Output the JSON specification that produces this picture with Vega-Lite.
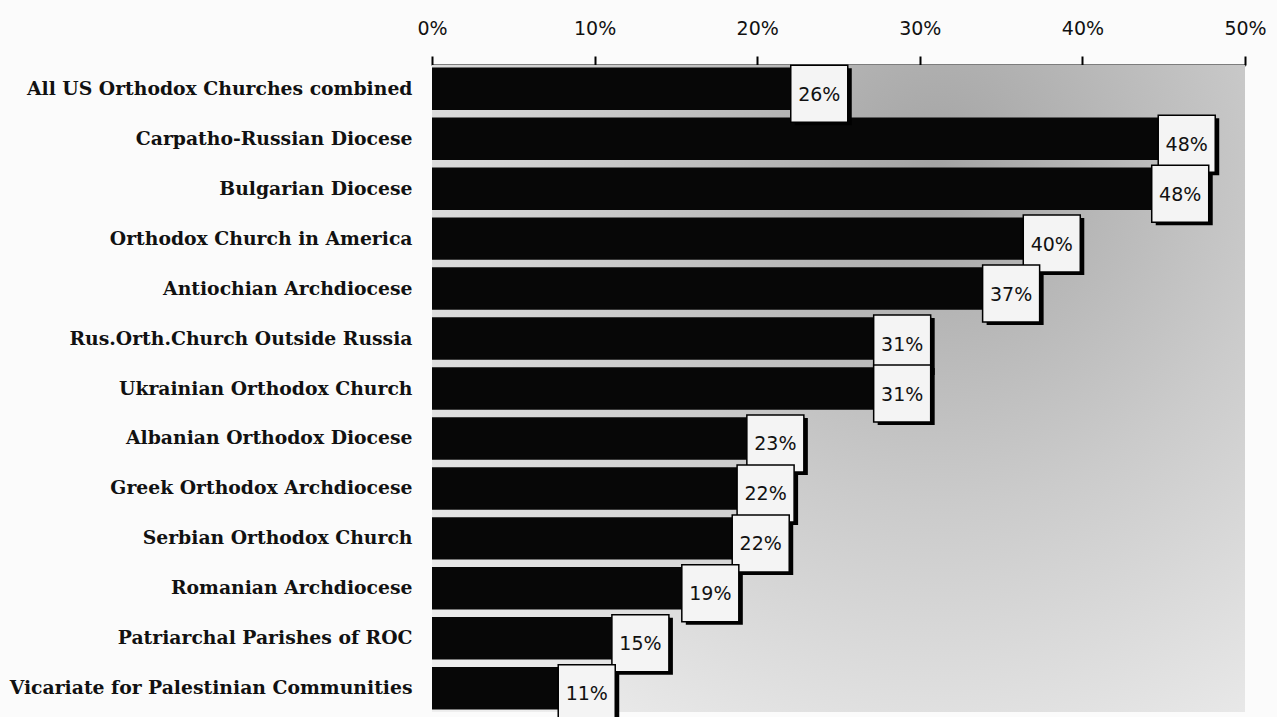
{
  "$schema": "https://vega.github.io/schema/vega-lite/v6.json",
  "width": 813,
  "height": 647,
  "autosize": {"type": "none"},
  "padding": {"left": 432, "top": 65, "right": 32, "bottom": 5},
  "background": "#fbfbfb",
  "config": {"view": {"stroke": null}},
  "data": {
    "values": [
      {"church": "All US Orthodox Churches combined", "value": 25.6, "label": "26%"},
      {"church": "Carpatho-Russian Diocese", "value": 48.2, "label": "48%"},
      {"church": "Bulgarian Diocese", "value": 47.8, "label": "48%"},
      {"church": "Orthodox Church in America", "value": 39.9, "label": "40%"},
      {"church": "Antiochian Archdiocese", "value": 37.4, "label": "37%"},
      {"church": "Rus.Orth.Church Outside Russia", "value": 30.7, "label": "31%"},
      {"church": "Ukrainian Orthodox Church", "value": 30.7, "label": "31%"},
      {"church": "Albanian Orthodox Diocese", "value": 22.9, "label": "23%"},
      {"church": "Greek Orthodox Archdiocese", "value": 22.3, "label": "22%"},
      {"church": "Serbian Orthodox Church", "value": 22.0, "label": "22%"},
      {"church": "Romanian Archdiocese", "value": 18.9, "label": "19%"},
      {"church": "Patriarchal Parishes of ROC", "value": 14.6, "label": "15%"},
      {"church": "Vicariate for Palestinian Communities", "value": 11.3, "label": "11%"}
    ]
  },
  "encoding": {
    "y": {
      "field": "church",
      "type": "nominal",
      "sort": null,
      "title": null,
      "scale": {"paddingInner": 0.15, "paddingOuter": 0.05},
      "axis": {
        "domain": false,
        "ticks": false,
        "labelPadding": 20,
        "labelFont": "DejaVu Serif",
        "labelFontWeight": "bold",
        "labelFontSize": 18.8,
        "labelColor": "#111111",
        "labelLimit": 430
      }
    }
  },
  "layer": [
    {
      "data": {"values": [{"a": 1}]},
      "mark": {
        "type": "rect",
        "color": {
          "gradient": "radial",
          "x1": 0.62, "y1": 0.22, "r1": 0,
          "x2": 0.62, "y2": 0.22, "r2": 0.85,
          "stops": [
            {"offset": 0, "color": "#a4a4a4"},
            {"offset": 0.5, "color": "#cbcbcb"},
            {"offset": 1, "color": "#eeeeee"}
          ]
        }
      },
      "encoding": {
        "y": {"value": 0},
        "x": {"value": 0},
        "x2": {"value": "width"},
        "y2": {"value": "height"}
      }
    },
    {
      "mark": {"type": "bar", "color": "#070707"},
      "encoding": {
        "x": {
          "field": "value",
          "type": "quantitative",
          "title": null,
          "scale": {"domain": [0, 50], "nice": false},
          "axis": {
            "orient": "top",
            "values": [0, 10, 20, 30, 40, 50],
            "format": "d",
            "labelExpr": "datum.value + '%'",
            "grid": false,
            "domainColor": "#000000",
            "domainWidth": 2,
            "tickColor": "#000000",
            "tickWidth": 2,
            "tickSize": 9,
            "labelPadding": 18,
            "labelFont": "DejaVu Sans",
            "labelFontSize": 19,
            "labelColor": "#111111",
            "labelFlush": false
          }
        }
      }
    },
    {
      "mark": {"type": "point", "shape": "square", "filled": true, "color": "#000000", "size": 3250, "xOffset": -25, "yOffset": 8, "opacity": 1},
      "encoding": {"x": {"field": "value", "type": "quantitative"}}
    },
    {
      "mark": {"type": "point", "shape": "square", "filled": true, "fill": "#f4f4f4", "stroke": "#000000", "strokeWidth": 1.5, "size": 3250, "xOffset": -29, "yOffset": 5, "opacity": 1},
      "encoding": {"x": {"field": "value", "type": "quantitative"}}
    },
    {
      "mark": {"type": "text", "font": "DejaVu Sans", "fontSize": 19, "color": "#111111", "xOffset": -29, "yOffset": 6, "align": "center", "baseline": "middle"},
      "encoding": {
        "x": {"field": "value", "type": "quantitative"},
        "text": {"field": "label"}
      }
    }
  ]
}
